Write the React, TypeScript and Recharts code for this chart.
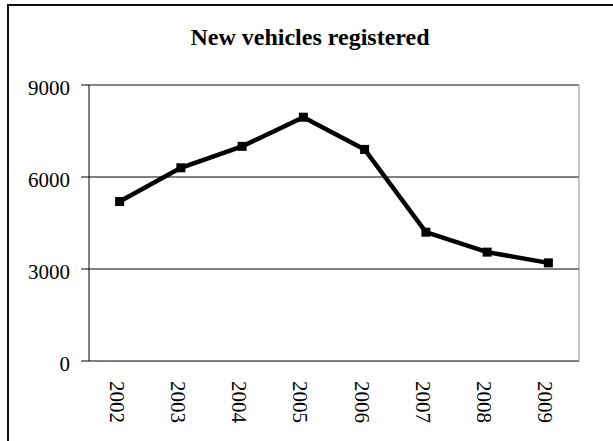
import { LineChart, Line, XAxis, YAxis, CartesianGrid, ReferenceLine } from 'recharts'

const years = ['2002', '2003', '2004', '2005', '2006', '2007', '2008', '2009']
const registrations = [5200, 6300, 7000, 7950, 6900, 4200, 3550, 3200]
const yTicks = [0, 3000, 6000, 9000]
const bandEdges = [-0.5, 0.5, 1.5, 2.5, 3.5, 4.5, 5.5, 6.5, 7.5]

const data = years.map((year, i) => ({ idx: i, year, value: registrations[i] }))

const font = '"Liberation Serif", "Times New Roman", serif'

function YearTick(props: any) {
  const { x, y, payload } = props
  return (
    <g transform={`translate(${x},${y})`}>
      <text transform="rotate(90)" x={20} y={10} fontFamily={font} fontSize={21} fill="#000">
        {years[payload.value]}
      </text>
    </g>
  )
}

function ValueTick(props: any) {
  const { x, y, payload } = props
  return (
    <text x={x} y={y} dy={9.6} textAnchor="end" fontFamily={font} fontSize={21} fill="#000">
      {payload.value}
    </text>
  )
}

function SquareDot(props: any) {
  const { cx, cy } = props
  if (cx == null || cy == null) return null
  return <rect x={cx - 4.5} y={cy - 4.5} width={9} height={9} fill="#000" />
}

export default function App() {
  return (
    <div style={{ position: 'absolute', left: 0, top: 0, width: 613, height: 441, background: '#fff' }}>
      <div
        style={{
          position: 'absolute',
          left: 7,
          top: 4,
          right: 0,
          bottom: 0,
          borderTop: '2px solid #111',
          borderLeft: '2px solid #111'
        }}
      />
      <div
        style={{
          position: 'absolute',
          left: 7,
          width: 606,
          top: 25,
          lineHeight: '24px',
          textAlign: 'center',
          fontFamily: font,
          fontWeight: 'bold',
          fontSize: 24,
          color: '#000'
        }}
      >
        New vehicles registered
      </div>

      <div style={{ position: 'absolute', left: 0, top: 0 }}>
        <LineChart width={613} height={441} data={data} margin={{ top: 85, right: 34, bottom: 0, left: 0 }}>

          <CartesianGrid horizontal vertical={false} stroke="#000" />

          <XAxis
            xAxisId="marks"
            type="number"
            dataKey="idx"
            domain={[-0.5, 7.5]}
            ticks={bandEdges}
            interval={0}
            tick={false}
            tickSize={8}
            height={0}
            axisLine={{ stroke: '#000' }}
            tickLine={{ stroke: '#000' }}
          />

          <XAxis
            xAxisId="labels"
            type="number"
            dataKey="idx"
            domain={[-0.5, 7.5]}
            ticks={[0, 1, 2, 3, 4, 5, 6, 7]}
            interval={0}
            tick={<YearTick />}
            tickLine={false}
            axisLine={false}
            tickSize={0}
            tickMargin={0}
            height={80}
          />

          <YAxis
            domain={[0, 9000]}
            ticks={yTicks}
            interval={0}
            width={89}
            tickSize={8}
            tickMargin={11}
            tick={<ValueTick />}
            axisLine={{ stroke: '#000' }}
            tickLine={{ stroke: '#000' }}
          />

          <ReferenceLine y={9000} xAxisId="labels" stroke="#8c8c8c" />
          <ReferenceLine x={7.5} xAxisId="labels" stroke="#8c8c8c" />

          <Line
            xAxisId="labels"
            type="linear"
            dataKey="value"
            stroke="#000"
            strokeWidth={4.5}
            dot={<SquareDot />}
            activeDot={false}
            isAnimationActive={false}
          />

        </LineChart>
      </div>
    </div>
  )
}
